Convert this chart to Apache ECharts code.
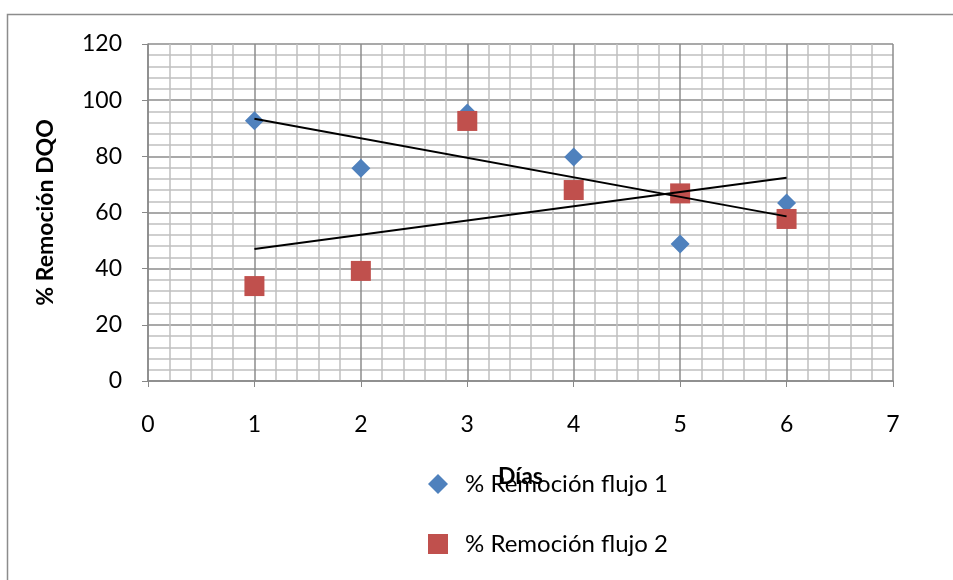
<!DOCTYPE html>
<html>
<head>
<meta charset="utf-8">
<script src="https://cdn.jsdelivr.net/npm/echarts@6/dist/echarts.min.js"></script>
<style>
  html, body { margin: 0; padding: 0; background: #fff; }
  #chart { width: 953px; height: 580px; }
</style>
</head>
<body>
<div id="chart"></div>
<script>
// datos
const dias = [1, 2, 3, 4, 5, 6]
const flujo1 = [92.7, 75.8, 95.4, 79.8, 48.8, 63.4]
const flujo2 = [33.8, 39.2, 92.6, 68.0, 66.8, 57.7]
const nombres = ['% Remoción flujo 1', '% Remoción flujo 2']

// tendencia lineal (minimos cuadrados), como la de Excel
function tendencia(xs, ys) {
  const n = xs.length
  const mx = xs.reduce((a, b) => a + b, 0) / n
  const my = ys.reduce((a, b) => a + b, 0) / n
  let sxy = 0, sxx = 0
  xs.forEach((x, i) => {
    sxy += (x - mx) * (ys[i] - my)
    sxx += (x - mx) * (x - mx)
  })
  const m = sxy / sxx
  const b = my - m * mx
  const x0 = xs[0], x1 = xs[n - 1]
  return [[x0, m * x0 + b], [x1, m * x1 + b]]
}

const fuente = 'Lato, "Liberation Sans", sans-serif'
const chart = echarts.init(document.getElementById('chart'))

const option = {
  animation: false,
  backgroundColor: '#fff',
  textStyle: { fontFamily: fuente },
  graphic: [{
    type: 'rect',
    left: 5, top: 12,
    shape: { width: 1000, height: 1000 },
    style: { fill: 'none', stroke: '#8c8c8c', lineWidth: 1.5 },
    silent: true
  }],
  grid: { left: 148, right: 60, top: 44, bottom: 199 },
  legend: {
    orient: 'vertical',
    left: 423, top: 467,
    itemWidth: 20, itemHeight: 20,
    itemGap: 36,
    data: [
      { name: nombres[0], icon: 'diamond' },
      { name: nombres[1], icon: 'rect' }
    ],
    textStyle: { fontSize: 24, color: '#000', fontFamily: fuente, padding: [0, 0, 0, 12] }
  },
  xAxis: {
    type: 'value',
    min: 0, max: 7, interval: 1,
    name: 'Días',
    nameLocation: 'middle',
    nameGap: 84,
    nameTextStyle: { fontSize: 23, fontWeight: 'bold', color: '#000', fontFamily: fuente },
    axisLine: { lineStyle: { color: '#888', width: 1.5 } },
    axisTick: { show: true, length: 6, lineStyle: { color: '#888' } },
    axisLabel: { fontSize: 23, color: '#000', margin: 32, fontFamily: fuente },
    splitLine: { show: true, lineStyle: { color: '#8c8c8c', width: 1.5 } },
    minorTick: { show: false, splitNumber: 5 },
    minorSplitLine: { show: true, lineStyle: { color: '#c0c0c0', width: 1.5 } }
  },
  yAxis: {
    type: 'value',
    min: 0, max: 120, interval: 20,
    name: '% Remoción DQO',
    nameLocation: 'middle',
    nameGap: 91,
    nameTextStyle: { fontSize: 23, fontWeight: 'bold', color: '#000', fontFamily: fuente },
    axisLine: { show: true, lineStyle: { color: '#888', width: 1.5 } },
    axisTick: { show: true, length: 6, lineStyle: { color: '#888' } },
    axisLabel: { fontSize: 23, color: '#000', margin: 26, fontFamily: fuente },
    splitLine: { show: true, lineStyle: { color: '#8c8c8c', width: 1.5 } },
    minorTick: { show: false, splitNumber: 5 },
    minorSplitLine: { show: true, lineStyle: { color: '#c0c0c0', width: 1.5 } }
  },
  series: [
    {
      name: nombres[0] + ' tendencia',
      type: 'line',
      data: tendencia(dias, flujo1),
      symbol: 'none',
      lineStyle: { color: '#000', width: 2 },
      z: 3
    },
    {
      name: nombres[1] + ' tendencia',
      type: 'line',
      data: tendencia(dias, flujo2),
      symbol: 'none',
      lineStyle: { color: '#000', width: 2 },
      z: 3
    },
    {
      name: nombres[0],
      type: 'scatter',
      symbol: 'diamond',
      symbolSize: 19,
      itemStyle: { color: '#4f81bd', opacity: 1 },
      data: dias.map((d, i) => [d, flujo1[i]]),
      z: 2
    },
    {
      name: nombres[1],
      type: 'scatter',
      symbol: 'rect',
      symbolSize: 20,
      itemStyle: { color: '#c0504d', opacity: 1 },
      data: dias.map((d, i) => [d, flujo2[i]]),
      z: 2
    }
  ]
}
chart.setOption(option)
</script>
</body>
</html>
